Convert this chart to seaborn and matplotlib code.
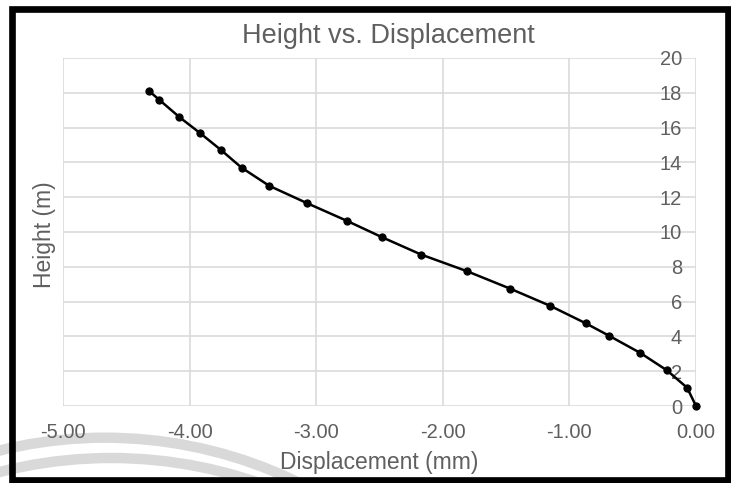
import seaborn as sns
import pandas as pd
import matplotlib
matplotlib.use("Agg")
import matplotlib.pyplot as plt
import matplotlib.patches as mpatches
from matplotlib.ticker import FormatStrFormatter

sns.set_theme(style="white")
plt.rcParams['font.family'] = ['Liberation Sans', 'DejaVu Sans']

# data
displacement = [-4.32, -4.24, -4.08, -3.92, -3.75, -3.59, -3.37, -3.07, -2.76, -2.48,
                -2.17, -1.81, -1.47, -1.15, -0.87, -0.69, -0.44, -0.23, -0.07, 0.00]
height = [18.1, 17.6, 16.6, 15.7, 14.7, 13.7, 12.65, 11.65, 10.65, 9.7,
          8.7, 7.75, 6.75, 5.75, 4.75, 4.05, 3.05, 2.05, 1.05, 0.0]

x_ticks = [-5, -4, -3, -2, -1, 0]
y_ticks = [0, 2, 4, 6, 8, 10, 12, 14, 16, 18, 20]

df = pd.DataFrame({"Displacement (mm)": displacement, "Height (m)": height})

text_gray = "#5f5f5f"
grid_gray = "#dadada"

W, H = 731, 483
fig = plt.figure(figsize=(W / 100, H / 100), dpi=100)

# background decoration (grey arcs bottom-left)
bg = fig.add_axes([0, 0, 1, 1], zorder=0)
bg.set_xlim(0, W)
bg.set_ylim(H, 0)
bg.axis("off")
for cx, cy, r in [(105, 437.7 + 440, 440), (111, 458 + 452, 452)]:
    bg.add_patch(mpatches.Circle((cx, cy), r, fill=False, edgecolor="#d9d9d9", linewidth=7.5))

# main plot
ax = fig.add_axes([63 / W, 1 - 406 / H, (696 - 63) / W, (406 - 58) / H], zorder=1)
ax.patch.set_alpha(0)

sns.lineplot(data=df, x="Displacement (mm)", y="Height (m)", sort=False, ax=ax,
             color="black", linewidth=1.8, marker="o", markersize=5.2,
             markeredgecolor="black", clip_on=False, zorder=5)

ax.set_xlim(-5, 0)
ax.set_ylim(0, 20)
ax.set_xticks(x_ticks)
ax.set_yticks(y_ticks)
ax.xaxis.set_major_formatter(FormatStrFormatter("%.2f"))
ax.grid(True, color=grid_gray, linewidth=1.2)
ax.set_axisbelow(True)

for s in ax.spines.values():
    s.set_visible(False)
# y axis crosses at x = 0, labels sit just left of it
ax.spines["left"].set_position(("data", 0))
ax.tick_params(axis="y", length=0, pad=10, labelsize=14.5, labelcolor=text_gray)
ax.tick_params(axis="x", length=0, pad=12, labelsize=14.5, labelcolor=text_gray)

ax.set_xlabel("Displacement (mm)", fontsize=16.5, color=text_gray, labelpad=7)
ax.set_ylabel("")
fig.text(44 / W, 1 - 235 / H, "Height (m)", rotation=90, ha="center", va="center",
         fontsize=16.5, color=text_gray)
fig.text(388 / W, 1 - 36 / H, "Height vs. Displacement", ha="center", va="center",
         fontsize=19.5, color=text_gray)

# thick black frame
fig.add_artist(mpatches.Rectangle((12 / W, 1 - 480 / H), (728 - 12) / W, (480 - 8.5) / H,
                                  transform=fig.transFigure, fill=False,
                                  edgecolor="black", linewidth=4.8, zorder=10))

fig.savefig("out.png", dpi=100)
